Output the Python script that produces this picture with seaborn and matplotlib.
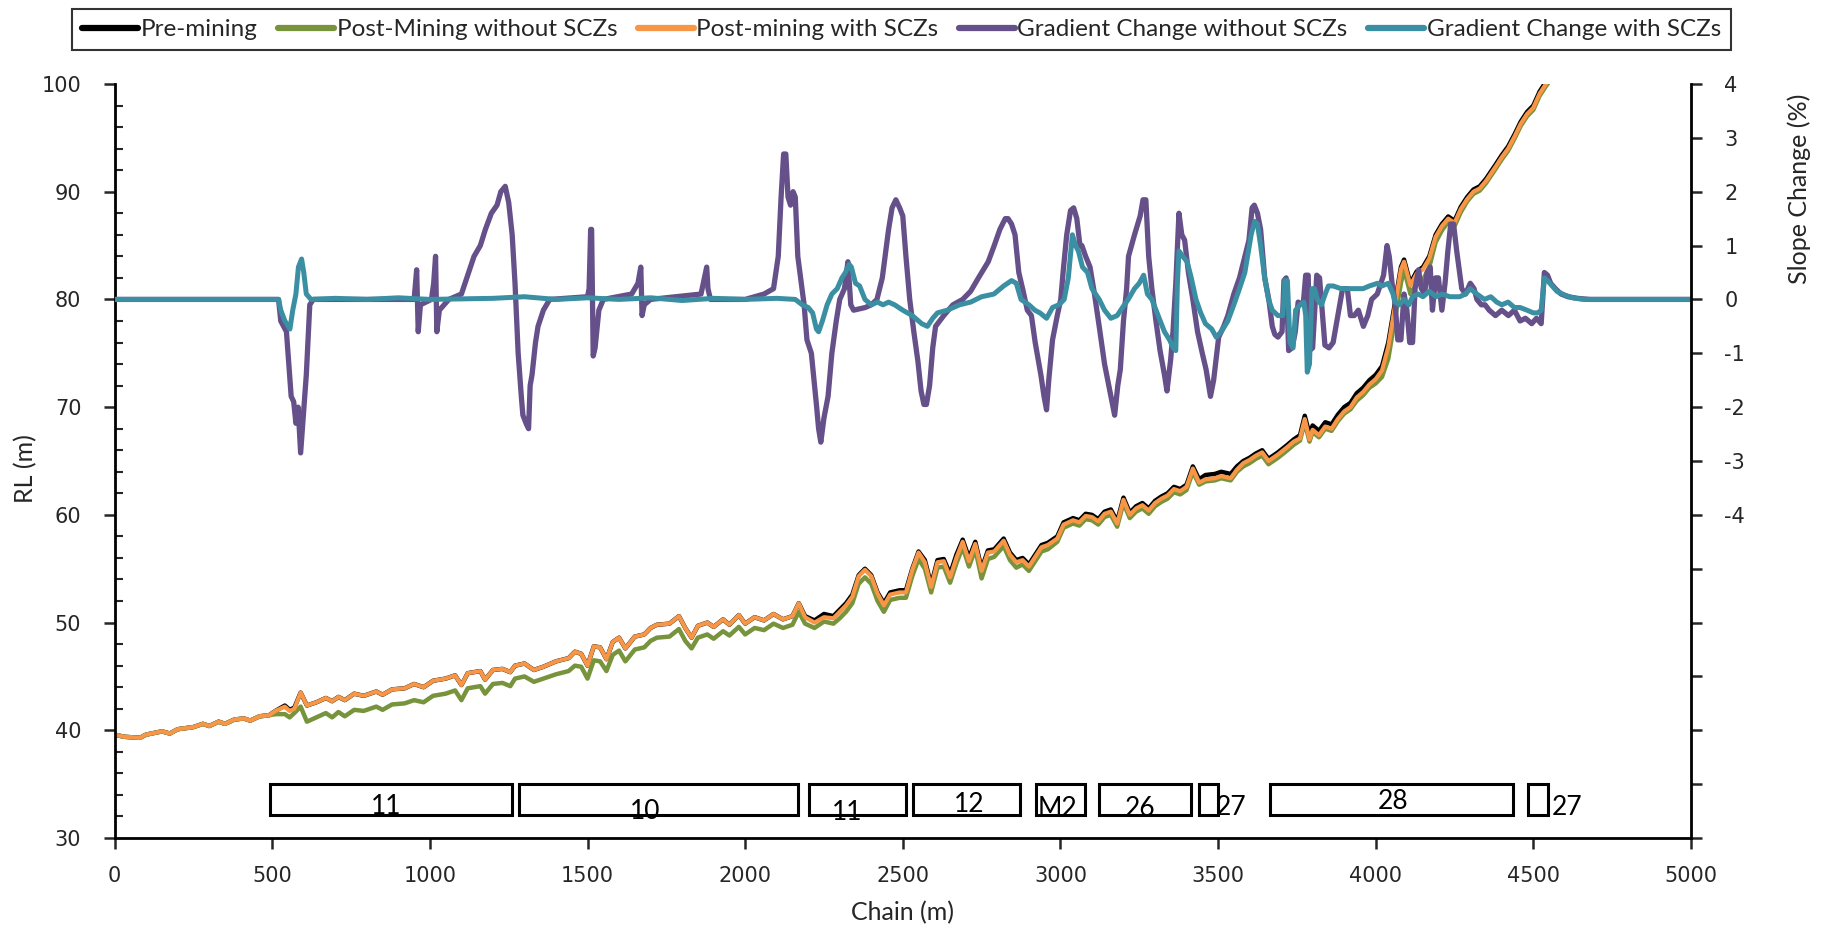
import numpy as np
import pandas as pd
import matplotlib
matplotlib.use("Agg")
import matplotlib.pyplot as plt
from matplotlib.patches import Rectangle
from matplotlib.ticker import MultipleLocator, FixedLocator, FuncFormatter
import seaborn as sns

# ---------------- data ----------------
chain = [0, 30, 80, 100, 150, 175, 200, 250, 280, 300, 330, 350, 380, 410, 430, 460, 490,
         510, 540, 555, 570, 590, 610, 640, 670, 690, 710, 730, 760, 790, 830, 850, 880, 920,
         950, 980, 1010, 1050, 1080, 1100, 1120, 1160, 1175, 1200, 1230, 1255, 1270, 1300,
         1330, 1360, 1400, 1440, 1460, 1480, 1500, 1520, 1540, 1560, 1580, 1600, 1620, 1650,
         1680, 1700, 1720, 1760, 1790, 1810, 1830, 1850, 1880, 1900, 1930, 1950, 1980, 2000,
         2030, 2060, 2090, 2120, 2150, 2170, 2190, 2220, 2250, 2280, 2300, 2320, 2340, 2360,
         2380, 2400, 2420, 2440, 2460, 2490, 2510, 2530, 2550, 2570, 2590, 2610, 2630, 2650,
         2670, 2690, 2710, 2730, 2750, 2770, 2790, 2820, 2840, 2860, 2880, 2900, 2920, 2940,
         2960, 2990, 3010, 3040, 3060, 3080, 3100, 3120, 3140, 3160, 3180, 3200, 3220, 3240,
         3260, 3280, 3300, 3320, 3340, 3360, 3380, 3400, 3420, 3440, 3460, 3490, 3510, 3540,
         3560, 3580, 3600, 3620, 3640, 3660, 3690, 3720, 3740, 3760, 3775, 3790, 3800, 3820,
         3840, 3860, 3880, 3900, 3920, 3940, 3960, 3980, 4000, 4020, 4040, 4060, 4080, 4090,
         4110, 4130, 4150, 4170, 4190, 4210, 4230, 4250, 4270, 4290, 4310, 4330, 4350, 4380,
         4400, 4420, 4440, 4460, 4480, 4500, 4520, 4540, 4560]

pre_mining = [39.6, 39.4, 39.3, 39.6, 39.9, 39.7, 40.1, 40.3, 40.6, 40.4, 40.8, 40.6, 41.0, 41.1, 40.9, 41.3, 41.4,
              41.8, 42.3, 41.9, 42.1, 43.5, 42.3, 42.6, 43.0, 42.7, 43.1, 42.8, 43.4, 43.2, 43.6, 43.3, 43.8, 43.9,
              44.3, 44.0, 44.6, 44.8, 45.1, 44.2, 45.3, 45.5, 44.7, 45.6, 45.7, 45.4, 46.0, 46.2,
              45.6, 45.9, 46.4, 46.7, 47.3, 47.1, 46.0, 47.8, 47.7, 46.6, 48.2, 48.6, 47.6, 48.7,
              48.9, 49.5, 49.8, 49.9, 50.6, 49.5, 48.6, 49.7, 50.0, 49.6, 50.3, 49.8, 50.7, 49.9,
              50.5, 50.2, 50.8, 50.3, 50.6, 51.8, 50.6, 50.2, 50.8, 50.6, 51.2, 51.8, 52.6, 54.4,
              55.0, 54.4, 52.8, 51.8, 52.8, 53.0, 53.0, 55.0, 56.6, 55.8, 53.5, 55.8, 55.9, 54.5,
              56.3, 57.7, 56.0, 57.5, 55.0, 56.7, 56.8, 57.8, 56.5, 55.8, 56.0, 55.4, 56.3, 57.2,
              57.4, 58.0, 59.3, 59.7, 59.5, 60.1, 60.0, 59.6, 60.3, 60.5, 59.4, 61.6, 60.2, 60.8,
              61.1, 60.6, 61.3, 61.7, 62.0, 62.6, 62.4, 62.8, 64.5, 63.3, 63.7, 63.8, 64.0, 63.8,
              64.5, 65.0, 65.3, 65.7, 66.0, 65.2, 65.8, 66.5, 67.0, 67.4, 69.2, 67.5, 68.3, 67.8,
              68.6, 68.4, 69.3, 70.0, 70.4, 71.3, 71.8, 72.5, 73.0, 73.8, 76.0, 79.5, 83.0, 83.7,
              81.5, 82.6, 83.0, 84.0, 86.0, 87.0, 87.7, 87.3, 88.6, 89.5, 90.2, 90.5, 91.2, 92.5,
              93.4, 94.2, 95.3, 96.5, 97.4, 98.0, 99.3, 100.2, 101.0]

post_without = [39.6, 39.4, 39.3, 39.6, 39.9, 39.7, 40.1, 40.3, 40.6, 40.4, 40.8, 40.6, 41.0, 41.1, 40.9, 41.3, 41.4,
                41.5, 41.5, 41.2, 41.6, 42.2, 40.8, 41.2, 41.6, 41.2, 41.7, 41.3, 41.9, 41.8, 42.2, 41.9, 42.4, 42.5,
                42.8, 42.6, 43.2, 43.4, 43.7, 42.8, 43.9, 44.1, 43.4, 44.3, 44.4, 44.1, 44.8, 45.0,
                44.5, 44.8, 45.2, 45.5, 46.0, 45.9, 44.8, 46.5, 46.4, 45.5, 47.0, 47.4, 46.4, 47.5,
                47.7, 48.3, 48.6, 48.7, 49.4, 48.3, 47.6, 48.6, 48.9, 48.5, 49.2, 48.8, 49.6, 48.9,
                49.5, 49.3, 49.9, 49.5, 49.8, 51.0, 49.9, 49.5, 50.1, 49.9, 50.4, 51.0, 51.8, 53.6,
                54.2, 53.6, 52.0, 51.0, 52.1, 52.3, 52.3, 54.3, 55.9, 55.0, 52.8, 55.1, 55.2, 53.7,
                55.5, 57.0, 55.2, 56.8, 54.1, 55.9, 56.1, 57.1, 55.8, 55.1, 55.4, 54.8, 55.7, 56.6,
                56.8, 57.5, 58.8, 59.2, 59.0, 59.6, 59.5, 59.1, 59.8, 60.0, 58.9, 61.1, 59.7, 60.3,
                60.6, 60.1, 60.8, 61.2, 61.5, 62.1, 61.9, 62.3, 64.0, 62.8, 63.1, 63.2, 63.4, 63.2,
                64.0, 64.5, 64.8, 65.2, 65.5, 64.7, 65.3, 66.0, 66.5, 66.9, 68.6, 66.8, 67.7, 67.2,
                68.0, 67.8, 68.7, 69.4, 69.8, 70.6, 71.1, 71.8, 72.2, 72.8, 74.5, 78.0, 81.5, 82.8,
                80.5, 81.5, 81.8, 83.0, 85.3, 86.4, 87.2, 86.8, 88.1, 89.1, 89.8, 90.1, 90.8, 92.1,
                93.0, 93.8, 94.9, 96.1, 97.0, 97.6, 98.9, 99.8, 100.6]

post_with = [39.6, 39.4, 39.3, 39.6, 39.9, 39.7, 40.1, 40.3, 40.6, 40.4, 40.8, 40.6, 41.0, 41.1, 40.9, 41.3, 41.4,
             41.8, 42.2, 41.8, 42.0, 43.5, 42.3, 42.6, 43.0, 42.7, 43.1, 42.8, 43.4, 43.2, 43.6, 43.3, 43.8, 43.9,
             44.3, 44.0, 44.6, 44.8, 45.1, 44.2, 45.3, 45.5, 44.7, 45.6, 45.7, 45.4, 46.0, 46.2,
             45.6, 45.9, 46.4, 46.7, 47.3, 47.1, 46.0, 47.8, 47.7, 46.6, 48.2, 48.6, 47.6, 48.7,
             48.9, 49.5, 49.8, 49.9, 50.6, 49.5, 48.6, 49.7, 50.0, 49.6, 50.3, 49.8, 50.7, 49.9,
             50.5, 50.2, 50.8, 50.3, 50.6, 51.8, 50.5, 50.0, 50.5, 50.4, 51.0, 51.6, 52.4, 54.3,
             54.9, 54.3, 52.7, 51.6, 52.6, 52.8, 52.8, 54.9, 56.5, 55.6, 53.3, 55.6, 55.7, 54.2,
             56.0, 57.5, 55.7, 57.3, 54.8, 56.5, 56.6, 57.6, 56.3, 55.6, 55.8, 55.2, 56.1, 57.0,
             57.2, 57.8, 59.1, 59.5, 59.3, 59.9, 59.8, 59.4, 60.1, 60.3, 59.2, 61.4, 60.0, 60.6,
             60.9, 60.4, 61.1, 61.5, 61.8, 62.4, 62.2, 62.6, 64.3, 63.0, 63.3, 63.4, 63.6, 63.4,
             64.2, 64.8, 65.1, 65.5, 65.8, 65.0, 65.6, 66.3, 66.8, 67.1, 68.9, 67.0, 67.9, 67.4,
             68.2, 68.0, 68.9, 69.6, 70.0, 70.9, 71.4, 72.1, 72.6, 73.4, 75.6, 79.2, 82.8, 83.5,
             81.3, 82.4, 82.8, 83.8, 85.8, 86.8, 87.5, 87.1, 88.4, 89.3, 90.0, 90.3, 91.0, 92.3,
             93.2, 94.0, 95.1, 96.3, 97.2, 97.8, 99.1, 100.0, 100.8]

grad_chain_without = [0, 520, 527, 545, 560, 568, 575, 582, 590, 598, 608, 619, 630, 950, 958, 963, 970,
                      1005, 1012, 1018, 1022, 1030, 1060, 1100, 1120, 1140, 1160, 1176, 1195, 1213, 1225,
                      1239, 1250, 1261, 1270, 1280, 1290, 1295, 1305, 1313, 1318, 1324, 1335, 1343, 1360,
                      1380, 1500, 1505, 1510, 1513, 1518, 1524, 1536, 1550, 1640, 1660, 1669, 1673, 1680,
                      1700, 1860, 1878, 1882, 1890, 2000, 2060, 2090, 2105, 2114, 2122, 2129, 2136, 2144,
                      2152, 2159, 2167, 2177, 2187, 2196, 2210, 2226, 2233, 2240, 2250, 2263, 2275, 2289,
                      2300, 2315, 2326, 2335, 2344, 2381, 2400, 2418, 2435, 2455, 2466, 2478, 2490, 2500,
                      2510, 2522, 2535, 2548, 2558, 2567, 2575, 2585, 2595, 2604, 2630, 2659, 2690, 2715,
                      2740, 2771, 2790, 2808, 2825, 2834, 2845, 2856, 2868, 2882, 2895, 2908, 2920, 2938,
                      2948, 2956, 2963, 2975, 2990, 3001, 3010, 3020, 3032, 3042, 3052, 3062, 3068, 3080,
                      3094, 3108, 3123, 3140, 3160, 3172, 3182, 3190, 3200, 3210, 3216, 3235, 3253, 3262,
                      3271, 3280, 3290, 3303, 3316, 3330, 3338, 3350, 3357, 3366, 3376, 3385, 3394, 3406,
                      3420, 3435, 3450, 3462, 3476, 3486, 3502, 3518, 3531, 3550, 3568, 3585, 3598, 3608,
                      3615, 3625, 3635, 3648, 3661, 3672, 3680, 3690, 3703, 3709, 3716, 3724, 3735, 3745,
                      3754, 3770, 3778, 3786, 3790, 3800, 3813, 3822, 3830, 3839, 3852, 3865, 3880, 3895,
                      3910, 3920, 3932, 3945, 3961, 3975, 3987, 4005, 4025, 4036, 4043, 4052, 4062, 4070,
                      4080, 4090, 4099, 4108, 4117, 4125, 4136, 4145, 4155, 4163, 4173, 4180, 4190, 4199,
                      4210, 4220, 4229, 4238, 4247, 4257, 4266, 4273, 4285, 4300, 4312, 4321, 4335, 4347,
                      4360, 4380, 4400, 4421, 4440, 4458, 4475, 4495, 4510, 4525, 4535, 4545, 4555, 4570,
                      4588, 4610, 4640, 4680, 5000]

grad_without = [0, 0, -0.4, -0.6, -1.8, -1.9, -2.3, -2.0, -2.85, -2.2, -1.4, -0.1, 0, 0, 0.55, -0.6, -0.1,
                0, 0.3, 0.8, -0.6, -0.2, 0, 0.1, 0.45, 0.8, 1.0, 1.3, 1.6, 1.75, 2.0,
                2.1, 1.8, 1.2, 0.3, -1.0, -1.8, -2.15, -2.3, -2.4, -1.6, -1.4, -0.8, -0.5, -0.2,
                0, 0.05, 0.2, 1.3, 1.3, -1.05, -0.9, -0.2, 0, 0.1, 0.3, 0.6, -0.3, -0.1,
                0, 0.1, 0.6, 0.2, 0, 0, 0.1, 0.2, 0.8, 1.9, 2.7, 2.7, 1.9, 1.75,
                2.0, 1.9, 0.8, 0.35, -0.1, -0.75, -1.0, -1.95, -2.4, -2.65, -2.2, -1.8, -1.0, -0.4,
                0.0, 0.2, 0.7, -0.1, -0.2, -0.15, -0.1, 0, 0.4, 1.3, 1.7, 1.85, 1.7, 1.55,
                0.8, 0.0, -0.6, -1.15, -1.7, -1.95, -1.95, -1.6, -0.9, -0.5, -0.3, -0.1, 0, 0.15,
                0.4, 0.7, 1.0, 1.3, 1.5, 1.5, 1.4, 1.2, 0.5, 0.15, -0.2, -0.3, -0.8, -1.4,
                -1.8, -2.05, -1.5, -0.75, -0.3, 0.0, 0.6, 1.2, 1.65, 1.7, 1.5, 1.0, 1.0, 0.8,
                0.6, 0.1, -0.5, -1.2, -1.8, -2.15, -1.6, -1.3, -0.4, 0.2, 0.8, 1.2, 1.55, 1.85,
                1.85, 0.8, 0.2, -0.4, -0.95, -1.4, -1.7, -1.1, -0.6, 0.3, 1.6, 1.2, 1.1, 0.5,
                0.0, -0.6, -1.0, -1.3, -1.8, -1.5, -0.7, -0.5, -0.3, 0.1, 0.4, 0.8, 1.1, 1.7,
                1.75, 1.6, 1.3, 0.4, 0.0, -0.5, -0.65, -0.7, -0.6, 0.35, 0.4, -0.95, -0.9, -0.6,
                -0.05, -0.1, 0.45, 0.45, -0.95, -0.9, 0.45, 0.4, -0.2, -0.85, -0.9, -0.8, -0.3, 0.2,
                0.2, -0.3, -0.3, -0.2, -0.5, -0.3, 0.0, 0.1, 0.45, 1.0, 0.8, 0.3, -0.1, -0.75,
                -0.75, 0.1, -0.2, -0.8, -0.8, 0.2, 0.55, 0.2, 0.1, 0.5, 0.6, -0.2, 0.4, 0.4,
                -0.2, 0.3, 0.9, 1.4, 1.4, 0.9, 0.5, 0.2, 0.1, 0.3, 0.2, 0.0, -0.1, -0.1,
                -0.2, -0.3, -0.2, -0.3, -0.2, -0.4, -0.35, -0.45, -0.35, -0.45, 0.5, 0.45, 0.3, 0.2,
                0.1, 0.05, 0.02, 0, 0]

grad_chain_with = [0, 520, 527, 540, 556, 565, 575, 583, 593, 600, 608, 623, 700, 800, 900, 1000, 1200,
                   1300, 1400, 1500, 1600, 1700, 1800, 1900, 2000, 2100, 2159, 2181, 2200, 2214, 2226,
                   2233, 2245, 2260, 2275, 2292, 2307, 2318, 2330, 2337, 2350, 2363, 2380, 2400, 2420,
                   2437, 2455, 2474, 2500, 2530, 2560, 2578, 2595, 2610, 2641, 2680, 2715, 2750, 2789,
                   2820, 2845, 2860, 2875, 2900, 2919, 2935, 2956, 2975, 2995, 3012, 3025, 3038, 3048,
                   3057, 3070, 3086, 3100, 3123, 3140, 3160, 3180, 3197, 3215, 3235, 3250, 3264, 3276,
                   3290, 3310, 3330, 3346, 3358, 3366, 3371, 3376, 3388, 3402, 3415, 3430, 3445, 3460,
                   3480, 3494, 3510, 3531, 3550, 3568, 3585, 3605, 3616, 3625, 3635, 3648, 3660, 3672,
                   3690, 3705, 3712, 3720, 3728, 3738, 3746, 3760, 3772, 3778, 3783, 3790, 3798, 3806,
                   3815, 3828, 3840, 3850, 3865, 3890, 3932, 3960, 3980, 4006, 4020, 4040, 4055, 4062,
                   4075, 4090, 4105, 4117, 4135, 4150, 4170, 4192, 4210, 4235, 4266, 4285, 4300, 4321,
                   4345, 4365, 4384, 4400, 4420, 4440, 4458, 4480, 4500, 4514, 4525, 4535, 4545, 4560,
                   4575, 4600, 4625, 4660, 5000]

grad_with = [0, 0, -0.2, -0.4, -0.55, -0.2, 0.1, 0.6, 0.75, 0.5, 0.1, 0.0, 0.02, 0.0, 0.03, 0.0, 0.02,
             0.05, 0.0, 0.03, 0.0, 0.03, -0.02, 0.02, 0.0, 0.02, 0.0, -0.1, -0.15, -0.25, -0.55,
             -0.6, -0.4, -0.1, 0.1, 0.2, 0.4, 0.5, 0.65, 0.6, 0.3, 0.25, 0.0, -0.1, -0.05,
             -0.1, -0.05, -0.1, -0.2, -0.3, -0.45, -0.5, -0.35, -0.25, -0.2, -0.1, -0.05, 0.05, 0.1,
             0.25, 0.35, 0.3, 0.0, -0.1, -0.2, -0.25, -0.35, -0.15, -0.1, 0.0, 0.4, 1.2, 1.0,
             0.9, 0.6, 0.5, 0.2, 0.0, -0.2, -0.35, -0.3, -0.15, 0.0, 0.2, 0.3, 0.45, 0.1,
             0.0, -0.3, -0.6, -0.75, -0.9, -0.95, 0.3, 0.9, 0.8, 0.7, 0.4, 0.0, -0.25, -0.45,
             -0.55, -0.7, -0.6, -0.4, -0.1, 0.2, 0.5, 1.2, 1.45, 1.4, 1.0, 0.4, 0.0, -0.2,
             -0.3, -0.3, 0.35, 0.35, -0.8, -0.9, -0.2, -0.1, -0.05, -0.3, -1.35, -1.2, 0.2, 0.2,
             0.0, -0.1, 0.1, 0.25, 0.25, 0.2, 0.2, 0.2, 0.25, 0.3, 0.25, 0.3, 0.1, -0.05,
             -0.1, 0.0, -0.1, 0.05, 0.1, 0.05, 0.15, 0.05, 0.1, 0.05, 0.05, 0.1, 0.2, 0.1,
             0.0, 0.05, -0.05, -0.1, -0.05, -0.15, -0.15, -0.2, -0.25, -0.25, -0.2, 0.4, 0.35, 0.25,
             0.15, 0.08, 0.03, 0.0, 0]

zone_start = [492, 1282, 2203, 2531, 2924, 3122, 3440, 3666, 4484]
zone_end = [1262, 2167, 2510, 2871, 3079, 3414, 3499, 4434, 4548]
zone_labels = ["11", "10", "11", "12", "M2", "26", "27", "28", "27"]
zone_label_x = [860, 1682, 2324, 2710, 2992, 3252, 3541, 4056, 4606]
zone_label_y = [32.9, 32.5, 32.4, 33.1, 32.7, 32.7, 32.8, 33.4, 32.8]
zone_bottom, zone_top = 32.1, 35.0

# ---------------- style ----------------
sns.set_style("white")
plt.rcParams['font.family'] = ['Lato', 'DejaVu Sans']

c_pre = "#000000"
c_post_no = "#77933C"
c_post_with = "#F79646"
c_grad_no = "#65508A"
c_grad_with = "#3A8FA3"

fig = plt.figure(figsize=(18.34, 9.30), dpi=100)
ax = fig.add_axes([0.0625, 0.0989, 0.8595, 0.8108])
ax2 = ax.twinx()

prof = pd.DataFrame({"chain": chain, "pre": pre_mining, "no": post_without, "with": post_with})
sns.lineplot(data=prof, x="chain", y="pre", ax=ax, color=c_pre, lw=3.2, label="Pre-mining", legend=False)
sns.lineplot(data=prof, x="chain", y="no", ax=ax, color=c_post_no, lw=3.2, label="Post-Mining without SCZs", legend=False)
sns.lineplot(data=prof, x="chain", y="with", ax=ax, color=c_post_with, lw=3.0, label="Post-mining with SCZs", legend=False)

gno = pd.DataFrame({"chain": grad_chain_without, "g": grad_without})
gwi = pd.DataFrame({"chain": grad_chain_with, "g": grad_with})
sns.lineplot(data=gno, x="chain", y="g", ax=ax2, color=c_grad_no, lw=3.8, label="Gradient Change without SCZs", legend=False)
sns.lineplot(data=gwi, x="chain", y="g", ax=ax2, color=c_grad_with, lw=3.6, label="Gradient Change with SCZs", legend=False)

# zone boxes
for s, e, lab, lx, ly in zip(zone_start, zone_end, zone_labels, zone_label_x, zone_label_y):
    ax.add_patch(Rectangle((s, zone_bottom), e - s, zone_top - zone_bottom, fill=False,
                           edgecolor="black", lw=2.2, zorder=3))
    ax.text(lx, ly, lab, ha="center", va="center", fontsize=19, color="black", zorder=4)

# axes limits
ax.set_xlim(0, 5000)
ax.set_ylim(30, 100)
ax2.set_ylim(-10, 4)

# spines
for a in (ax, ax2):
    a.spines["top"].set_visible(False)
    for s in ("left", "right", "bottom"):
        a.spines[s].set_linewidth(2.0)
        a.spines[s].set_color("black")
ax.spines["right"].set_visible(False)
ax2.spines["left"].set_visible(False)
ax2.spines["bottom"].set_visible(False)

# ticks
ax.xaxis.set_major_locator(MultipleLocator(500))
ax.yaxis.set_major_locator(MultipleLocator(10))
ax.yaxis.set_minor_locator(MultipleLocator(2))
ax.tick_params(axis="x", which="major", direction="out", length=8, width=1.8, pad=12,
               labelsize=15, bottom=True)
ax.tick_params(axis="y", which="major", direction="out", length=8, width=1.8, pad=16,
               labelsize=15, left=True)
ax.tick_params(axis="y", which="minor", direction="in", length=6, width=1.5, left=True)
for lab in ax.get_xticklabels() + ax.get_yticklabels():
    lab.set_family("DejaVu Sans")

ax2.yaxis.set_major_locator(FixedLocator(list(range(-10, 5))))
ax2.yaxis.set_major_formatter(FuncFormatter(lambda v, p: f"{int(round(v))}" if v >= -4 else ""))
ax2.tick_params(axis="y", which="major", direction="out", length=8, width=1.8, pad=16,
                labelsize=15, right=True)
for lab in ax2.get_yticklabels():
    lab.set_family("DejaVu Sans")

ax.set_xlabel("Chain (m)", fontsize=18)
ax.xaxis.set_label_coords(0.5, -0.083)
ax.set_ylabel("RL (m)", fontsize=18)
ax.yaxis.set_label_coords(-0.049, 0.49)
ax2.set_ylabel("")
fig.text(1799 / 1834, 1 - 94 / 930, "Slope Change (%)", rotation=90, ha="center", va="top", fontsize=18)

ax.grid(False)
ax2.grid(False)

# legend
h1, l1 = ax.get_legend_handles_labels()
h2, l2 = ax2.get_legend_handles_labels()
leg = fig.legend(h1 + h2, l1 + l2, loc="center", bbox_to_anchor=(0.4916, 0.968), ncol=5,
                 frameon=True, fancybox=False, edgecolor="black", fontsize=17.5,
                 handlelength=2.3, handletextpad=0.1, columnspacing=0.85, borderpad=0.42)
leg.get_frame().set_linewidth(1.5)
for line in leg.get_lines():
    line.set_linewidth(4.5)

fig.savefig("out.png", dpi=100)
